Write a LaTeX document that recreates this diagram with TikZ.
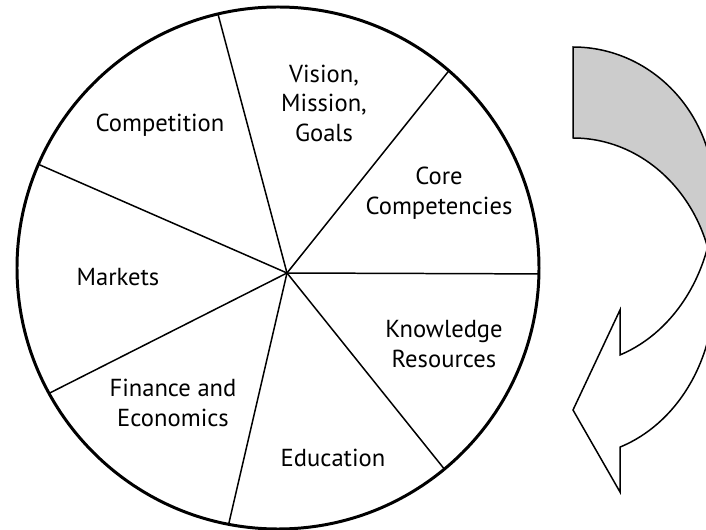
\documentclass[tikz,border=0pt]{standalone}
\usepackage{fontspec}
\setmainfont{PT Sans}
\usepackage{tikz}
\usetikzlibrary{arrows.meta}

\begin{document}
\begin{tikzpicture}[thick,
	slice/.style={align=center,font=\fontsize{14}{16.8}\selectfont}]
	\useasboundingbox (-5.74,-5.14) rectangle (8.38,5.46);
	\clip (-5.74,-5.14) rectangle (8.38,5.46);
	
	%CURVED ARROW
	\fill[gray!40,draw=black,line width=0.85pt] (5.72,4.52) arc[start angle=90,end angle=0,x radius=2.82,y radius=2.94]
		-- (8.54,-0.42) arc[start angle=0,end angle=90,x radius=2.82,y radius=3.12] -- cycle;
	\fill[white,draw=black,line width=0.85pt] (8.54,1.51) arc[start angle=0,end angle=-70.5,x radius=2.82,y radius=3.34]
		-- (6.66,-0.74) -- (5.72,-2.74) -- (6.66,-4.38)
		-- ({5.72+2.82*cos(-70.5)},{-0.39+3.28*sin(-70.5)}) arc[start angle=-70.5,end angle=0,x radius=2.82,y radius=3.28] -- cycle;
	
	%PIE
	\coordinate (hub) at (0,0);
	\foreach \a in {103.3,49.1,-1.3,-50.4,259.1,208.7,156.6}
		\draw[line width=0.85pt] (hub) -- ({-0.18+5.22*cos(\a)},{0.10+5.22*sin(\a)});
	\draw[line width=1.7pt] (-0.18,0.10) circle (5.22);
	
	%LABELS
	\node[slice] (vision) at (0.74,3.40) {Vision, \\ Mission, \\ Goals};
	\node[slice] (competition) at (-2.54,2.96) {Competition};
	\node[slice] (core) at (3.04,1.60) {Core \\ Competencies};
	\node[slice] (markets) at (-3.38,-0.08) {Markets};
	\node[slice] (knowledge) at (3.14,-1.42) {Knowledge \\ Resources};
	\node[slice] (finance) at (-2.28,-2.60) {Finance and \\ Economics};
	\node[slice] (education) at (0.92,-3.70) {Education};
\end{tikzpicture}
\end{document}
